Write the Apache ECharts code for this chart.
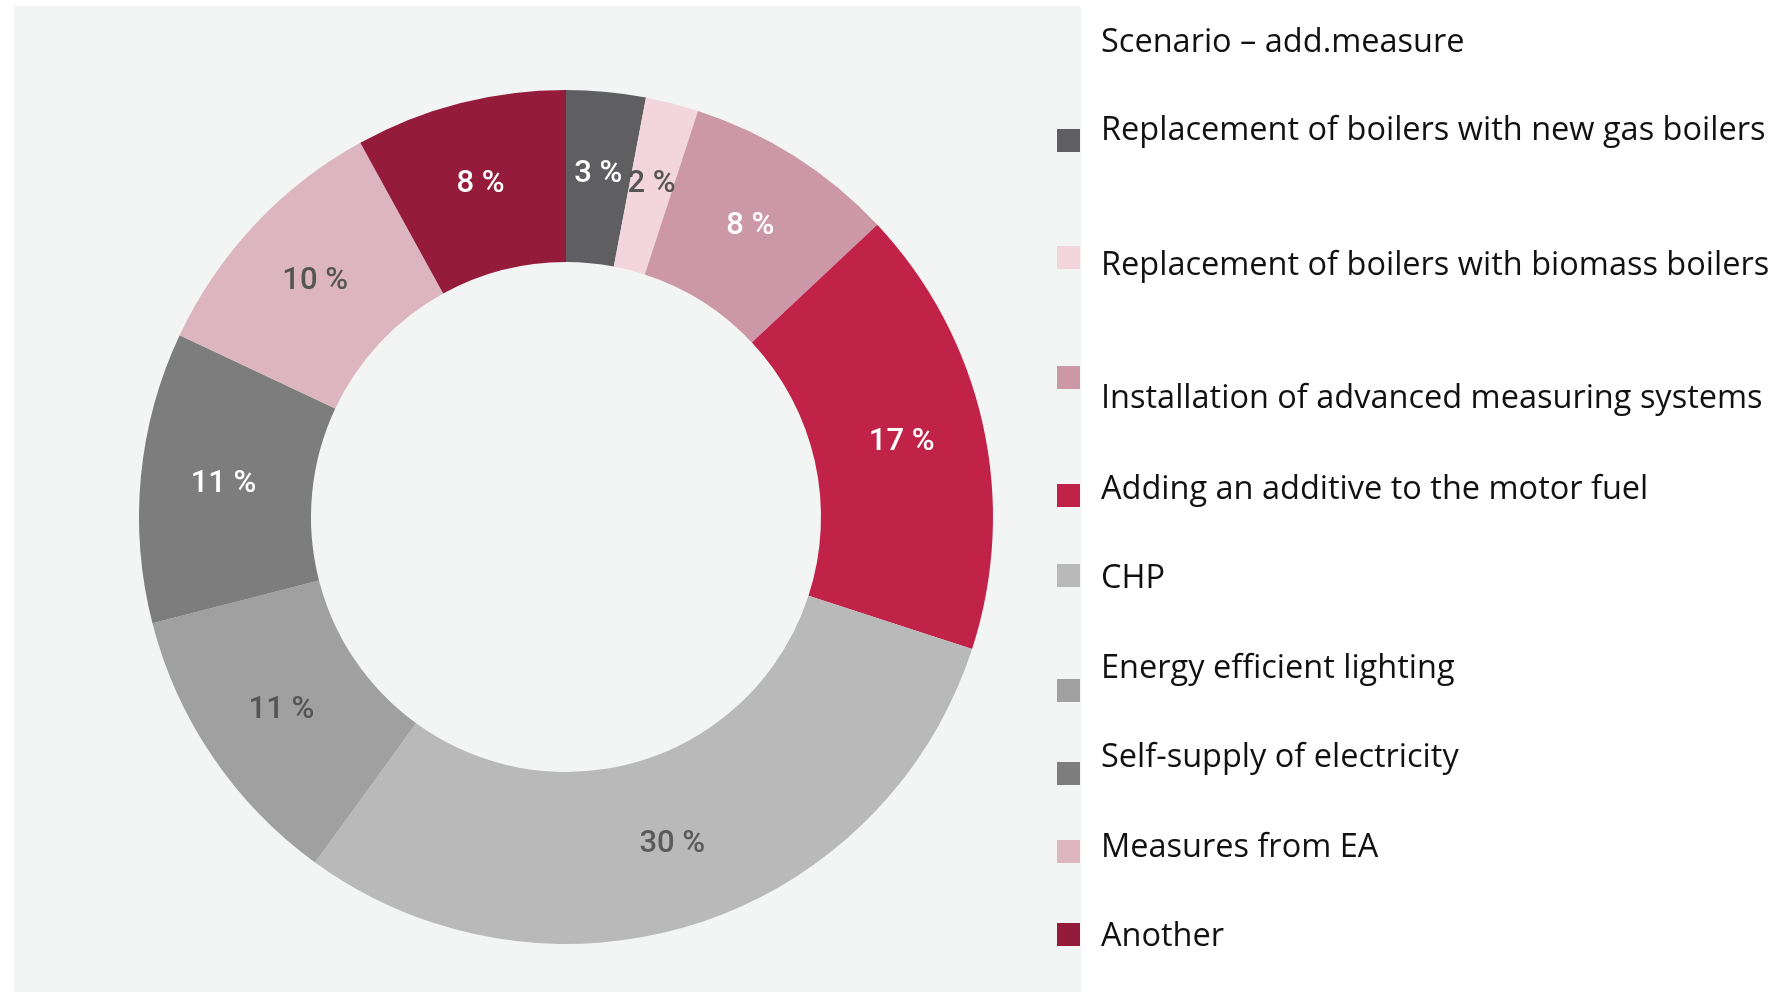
<!DOCTYPE html>
<html>
<head>
<meta charset="utf-8">
<script src="https://cdn.jsdelivr.net/npm/echarts@6/dist/echarts.min.js"></script>
<style>
  html, body { margin: 0; padding: 0; background: #ffffff; }
  #chart { width: 1775px; height: 992px; }
</style>
</head>
<body>
<div id="chart"></div>
<script>
// Share of savings by measure, scenario with additional measures
const legendTitle = 'Scenario – add.measure';
const categories = [
  'Replacement of boilers with new gas boilers',
  'Replacement of boilers with biomass boilers',
  'Installation of advanced measuring systems',
  'Adding an additive to the motor fuel',
  'CHP',
  'Energy efficient lighting',
  'Self-supply of electricity',
  'Measures from EA',
  'Another'
];
const shares = [3, 2, 8, 17, 30, 11, 11, 10, 8];
const sliceColors = ['#5f5f61', '#f3d6dd', '#cc98a8', '#c02347', '#b9b9b9', '#a0a0a0', '#7d7d7d', '#dcb5c1', '#951b3a'];
const labelColors = ['#ffffff', '#555555', '#ffffff', '#ffffff', '#5a5a5a', '#555555', '#ffffff', '#555555', '#ffffff'];

// Legend rows: marker centre y and text centre y (px)
const titleY = 43;
const markerY = [140, 257, 377, 495, 575, 690, 773, 851, 934];
const textY = [131, 266, 399, 490, 579, 669, 758, 848, 937];

const chart = echarts.init(document.getElementById('chart'));

const legends = categories.map((name, i) => ({
  data: [name],
  left: 1057,
  top: markerY[i] - 11,
  padding: 0,
  icon: 'rect',
  itemWidth: 23,
  itemHeight: 23,
  itemGap: 0,
  selectedMode: false,
  formatter: () => '',
  textStyle: { fontSize: 1, padding: 0 }
}));

const textFont = '32.5px "Open Sans"';
const legendTexts = [
  { type: 'text', x: 1101, y: titleY, style: { text: legendTitle, font: textFont, fill: '#111', verticalAlign: 'middle' } }
].concat(categories.map((name, i) => ({
  type: 'text',
  x: 1101,
  y: textY[i],
  style: { text: name, font: textFont, fill: '#111', verticalAlign: 'middle' }
})));

chart.setOption({
  backgroundColor: '#ffffff',
  animation: false,
  legend: legends,
  graphic: [
    { type: 'rect', left: 14, top: 6, shape: { width: 1067, height: 986 }, style: { fill: '#f3f4f4' }, z: -10 }
  ].concat(legendTexts),
  series: [{
    type: 'pie',
    center: [566, 517],
    radius: [255, 427],
    startAngle: 90,
    clockwise: true,
    avoidLabelOverlap: false,
    label: {
      show: true,
      position: 'inside',
      formatter: p => p.value + ' %',
      fontFamily: 'Roboto',
      fontWeight: 500,
      fontSize: 31
    },
    labelLine: { show: false },
    itemStyle: { borderWidth: 0 },
    emphasis: { disabled: true },
    data: categories.map((name, i) => ({
      name,
      value: shares[i],
      itemStyle: { color: sliceColors[i] },
      label: { color: labelColors[i] }
    }))
  }]
});
</script>
</body>
</html>
